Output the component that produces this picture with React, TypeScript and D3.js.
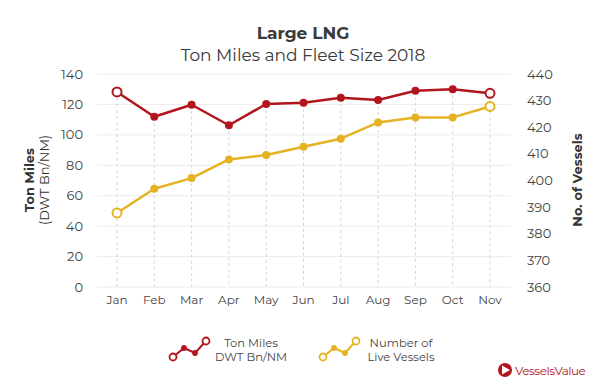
import React, { useRef, useEffect } from 'react';
import * as d3 from 'd3';

const months = ['Jan', 'Feb', 'Mar', 'Apr', 'May', 'Jun', 'Jul', 'Aug', 'Sep', 'Oct', 'Nov'];
const tonMiles = [128.2, 111.9, 119.8, 106.3, 120.3, 121.1, 124.4, 122.9, 129.0, 129.9, 127.3];
const liveVessels = [387.8, 396.9, 400.9, 407.9, 409.6, 412.7, 415.7, 421.8, 423.7, 423.7, 427.8];
const leftTicks = [0, 20, 40, 60, 80, 100, 120, 140];
const rightTicks = [360, 370, 380, 390, 400, 410, 420, 430, 440];

const RED = '#b3151d';
const YELLOW = '#e5b224';
const FONT = 'Montserrat, "Noto Sans", sans-serif';

const App: React.FC = () => {
  const svgRef = useRef<SVGSVGElement | null>(null);
  const width = 600;
  const height = 390;

  useEffect(() => {
    if (!svgRef.current) return;
    const svg = d3.select(svgRef.current);
    svg.selectAll('*').remove();

    const x = d3.scalePoint<string>().domain(months).range([117, 490]);
    const yL = d3.scaleLinear().domain([0, 140]).range([287, 74]);
    const yR = d3.scaleLinear().domain([360, 440]).range([287, 74]);

    svg.append('rect').attr('width', width).attr('height', height).attr('fill', '#fff');

    // titles
    svg.append('text').attr('x', 303).attr('y', 39).attr('text-anchor', 'middle')
      .attr('font-family', FONT).attr('font-weight', 700).attr('font-size', 17).attr('fill', '#3a3a3a')
      .text('Large LNG');
    svg.append('text').attr('x', 303).attr('y', 61).attr('text-anchor', 'middle')
      .attr('font-family', FONT).attr('font-size', 17).attr('fill', '#3a3a3a')
      .text('Ton Miles and Fleet Size 2018');

    // horizontal grid
    svg.append('g').selectAll('line').data(leftTicks).join('line')
      .attr('x1', 97).attr('x2', 511)
      .attr('y1', d => yL(d)).attr('y2', d => yL(d))
      .attr('stroke', '#ececec').attr('stroke-width', 1);

    // vertical dashed guides
    svg.append('g').selectAll('line').data(months).join('line')
      .attr('x1', d => x(d)!).attr('x2', d => x(d)!)
      .attr('y1', (d, i) => Math.min(yL(tonMiles[i]), yR(liveVessels[i])))
      .attr('y2', 287)
      .attr('stroke', '#d6d6d6').attr('stroke-width', 1).attr('stroke-dasharray', '3,3');

    // left axis labels
    svg.append('g').selectAll('text').data(leftTicks).join('text')
      .attr('x', 83).attr('y', d => yL(d)).attr('dy', '0.35em').attr('text-anchor', 'end')
      .attr('font-family', FONT).attr('font-size', 13).attr('fill', '#444')
      .text(d => d);
    // right axis labels
    svg.append('g').selectAll('text').data(rightTicks).join('text')
      .attr('x', 527).attr('y', d => yR(d)).attr('dy', '0.35em').attr('text-anchor', 'start')
      .attr('font-family', FONT).attr('font-size', 13).attr('fill', '#444')
      .text(d => d);
    // x labels
    svg.append('g').selectAll('text').data(months).join('text')
      .attr('x', d => x(d)!).attr('y', 304).attr('text-anchor', 'middle')
      .attr('font-family', FONT).attr('font-size', 12).attr('fill', '#444')
      .text(d => d);

    // axis titles
    const lt = svg.append('text').attr('transform', 'translate(34,180) rotate(-90)')
      .attr('text-anchor', 'middle').attr('font-family', FONT).attr('font-size', 13).attr('fill', '#333');
    lt.append('tspan').attr('x', 0).attr('y', 0).attr('font-weight', 700).text('Ton Miles');
    lt.append('tspan').attr('x', 0).attr('y', 15).text('(DWT Bn/NM)');
    svg.append('text').attr('transform', 'translate(582,180) rotate(-90)')
      .attr('text-anchor', 'middle').attr('font-family', FONT).attr('font-size', 13)
      .attr('font-weight', 700).attr('fill', '#333').text('No. of Vessels');

    const drawSeries = (vals: number[], y: d3.ScaleLinear<number, number>, color: string) => {
      const line = d3.line<number>().x((d, i) => x(months[i])!).y(d => y(d));
      svg.append('path').datum(vals).attr('d', line).attr('fill', 'none')
        .attr('stroke', color).attr('stroke-width', 2.5).attr('stroke-linejoin', 'round');
      svg.append('g').selectAll('circle').data(vals).join('circle')
        .attr('cx', (d, i) => x(months[i])!).attr('cy', d => y(d))
        .attr('r', (d, i) => (i === 0 || i === vals.length - 1 ? 4.5 : 3))
        .attr('fill', (d, i) => (i === 0 || i === vals.length - 1 ? '#fff' : color))
        .attr('stroke', color).attr('stroke-width', 2);
    };
    drawSeries(liveVessels, yR, YELLOW);
    drawSeries(tonMiles, yL, RED);

    // legend
    const legendIcon = (x0: number, color: string) => {
      const pts: [number, number][] = [[x0, 357], [x0 + 11, 348], [x0 + 22, 353], [x0 + 33, 341]];
      svg.append('path').attr('d', d3.line()(pts)).attr('fill', 'none')
        .attr('stroke', color).attr('stroke-width', 2);
      svg.append('g').selectAll('circle').data(pts).join('circle')
        .attr('cx', d => d[0]).attr('cy', d => d[1])
        .attr('r', (d, i) => (i === 0 || i === 3 ? 3.5 : 2))
        .attr('fill', (d, i) => (i === 0 || i === 3 ? '#fff' : color))
        .attr('stroke', color).attr('stroke-width', 1.8);
    };
    legendIcon(173, RED);
    legendIcon(323, YELLOW);
    const legendText = (cx: number, l1: string, l2: string) => {
      const t = svg.append('text').attr('text-anchor', 'middle').attr('font-family', FONT)
        .attr('font-size', 11.5).attr('fill', '#444');
      t.append('tspan').attr('x', cx).attr('y', 347).text(l1);
      t.append('tspan').attr('x', cx).attr('y', 361).text(l2);
    };
    legendText(251, 'Ton Miles', 'DWT Bn/NM');
    legendText(401, 'Number of', 'Live Vessels');

    // logo
    svg.append('circle').attr('cx', 505).attr('cy', 370).attr('r', 7).attr('fill', RED);
    svg.append('path').attr('d', 'M502,365.5 L510,370 L502,374.5 Z').attr('fill', '#fff');
    svg.append('text').attr('x', 515).attr('y', 374.5).attr('font-family', FONT)
      .attr('font-size', 12).attr('letter-spacing', -0.5).attr('fill', RED).text('VesselsValue');
  }, []);

  return (
    <svg ref={svgRef} width={width} height={height}
      style={{ position: 'absolute', left: 0, top: 0, display: 'block' }} />
  );
};

export default App;
